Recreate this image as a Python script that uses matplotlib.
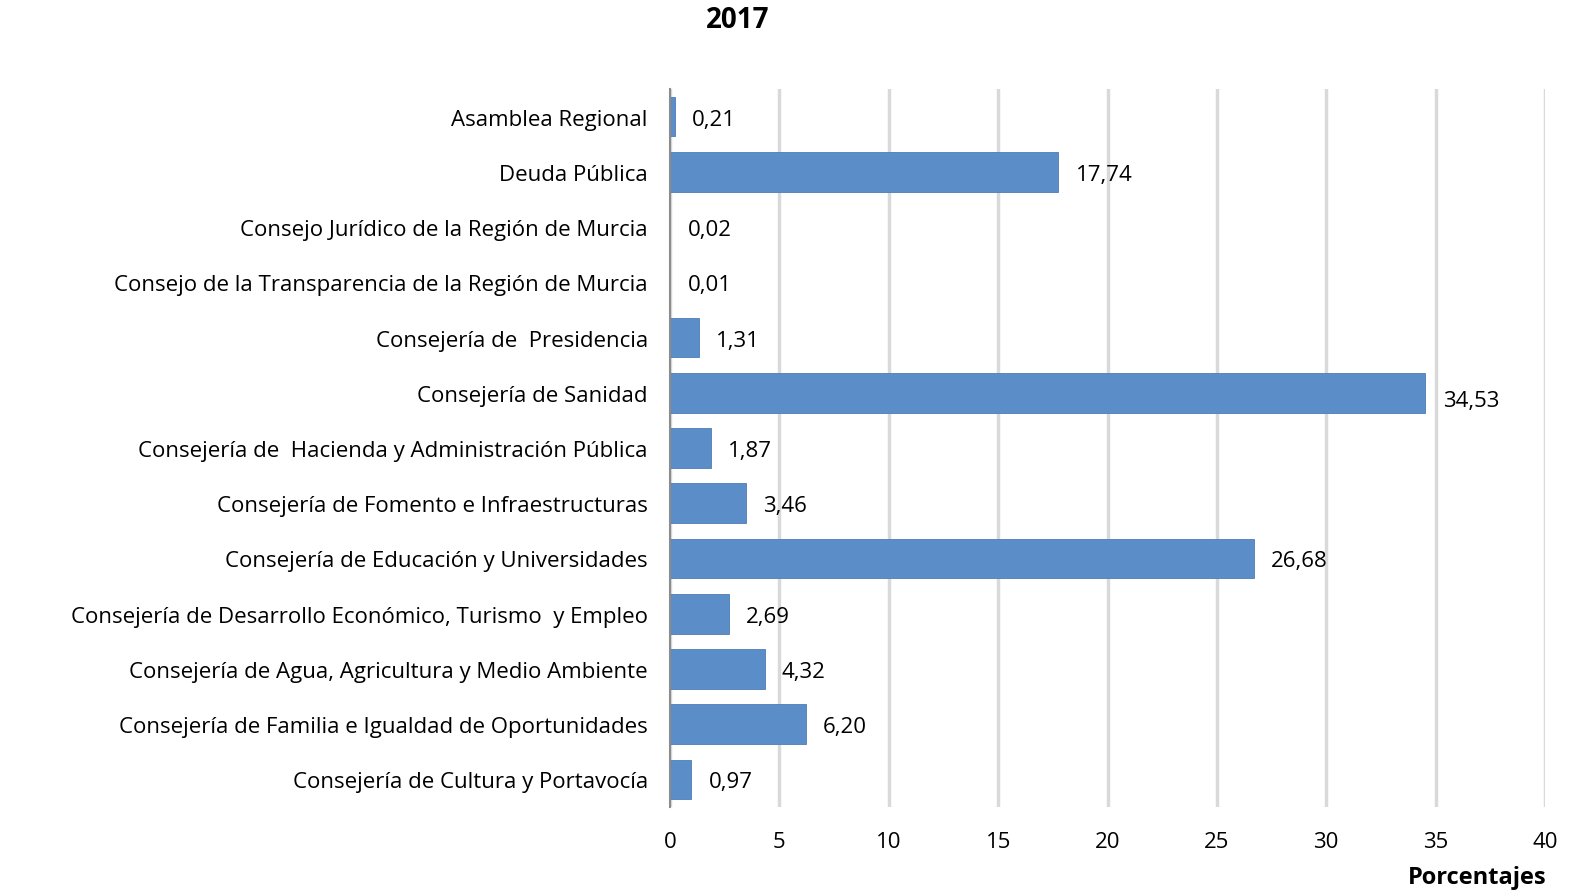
import matplotlib.pyplot as plt

# Data (2017, porcentajes)
categorias = [
    "Asamblea Regional",
    "Deuda Pública",
    "Consejo Jurídico de la Región de Murcia",
    "Consejo de la Transparencia de la Región de Murcia",
    "Consejería de  Presidencia",
    "Consejería de Sanidad",
    "Consejería de  Hacienda y Administración Pública",
    "Consejería de Fomento e Infraestructuras",
    "Consejería de Educación y Universidades",
    "Consejería de Desarrollo Económico, Turismo  y Empleo",
    "Consejería de Agua, Agricultura y Medio Ambiente",
    "Consejería de Familia e Igualdad de Oportunidades",
    "Consejería de Cultura y Portavocía",
]
valores = [0.21, 17.74, 0.02, 0.01, 1.31, 34.53, 1.87, 3.46, 26.68, 2.69, 4.32, 6.20, 0.97]
etiquetas = ["0,21", "17,74", "0,02", "0,01", "1,31", "34,53", "1,87", "3,46",
             "26,68", "2,69", "4,32", "6,20", "0,97"]
ticks_x = [0, 5, 10, 15, 20, 25, 30, 35, 40]

plt.rcParams['font.family'] = ['Open Sans', 'DejaVu Sans']

fig = plt.figure(figsize=(15.74, 8.95), dpi=100)
ax = fig.add_axes([670 / 1574, 1 - 808 / 895, 875 / 1574, (808 - 90) / 895])

pos = list(range(len(categorias)))
ax.barh(pos, valores, height=0.72, color='#5B8DC8', edgecolor='#4F7DB5', linewidth=0.6, zorder=3)

for p, v, t in zip(pos, valores, etiquetas):
    ax.text(v + 0.8, p + (0.1 if v > 30 else 0), t, va='center_baseline', ha='left', fontsize=16, color='black')

ax.set_xlim(0, 40)
ax.set_ylim(len(categorias) - 0.5, -0.5)
ax.set_yticks(pos)
ax.set_yticklabels(categorias, fontsize=16)
ax.set_xticks(ticks_x)
ax.set_xticklabels([str(t) for t in ticks_x], fontsize=16)
ax.tick_params(axis='both', length=0)
ax.tick_params(axis='y', pad=16)
ax.tick_params(axis='x', pad=17)

ax.grid(axis='x', color='#D9D9D9', linewidth=2.5, zorder=0)
for s in ['top', 'right', 'bottom']:
    ax.spines[s].set_visible(False)
ax.spines['left'].set_color('#8C8C8C')
ax.spines['left'].set_linewidth(1.5)
ax.spines['left'].set_zorder(4)

fig.text(738 / 1574, 1 - 20 / 895, "2017", ha='center', va='center', fontsize=20, fontweight='bold')
fig.text(1546 / 1574, 1 - 878 / 895, "Porcentajes", ha='right', va='center', fontsize=17, fontweight='bold')

fig.savefig("out.png", dpi=100)
